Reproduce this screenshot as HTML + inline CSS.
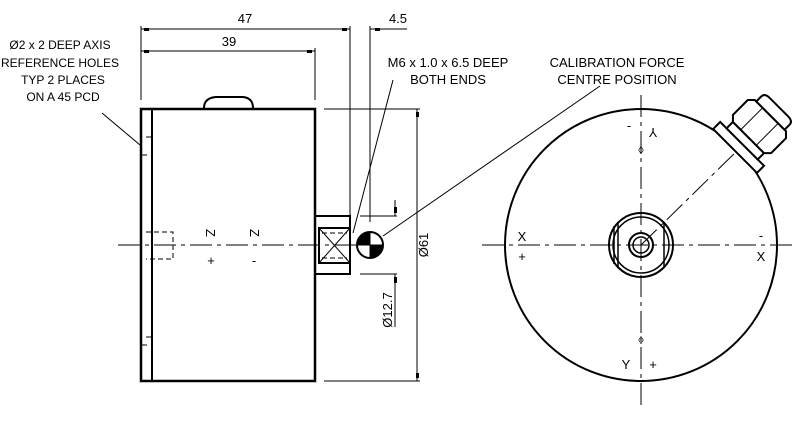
<!DOCTYPE html>
<html><head><style>html,body{margin:0;padding:0;background:#fff}</style></head><body>
<svg width="800" height="420" xmlns="http://www.w3.org/2000/svg" font-family="Liberation Sans, sans-serif" font-size="13" fill="none" stroke="#000">
<rect width="800" height="420" fill="#fff" stroke="none"/>
<rect x="141" y="109" width="174" height="272" stroke-width="2.5"/>
<line x1="152" y1="109" x2="152" y2="381" stroke-width="2"/>
<path d="M204 108 Q204 98 216 97 L243 97 Q253 98 253 108" stroke-width="2"/>
<rect x="315" y="216" width="35" height="58" stroke-width="2"/>
<rect x="319" y="228" width="31" height="35" stroke-width="2"/>
<path d="M319 228 L350 263 M350 228 L319 263" stroke-width="1"/>
<path d="M322 233 H347 M322 258 H347" stroke-width="1" stroke-dasharray="5,3"/>
<path d="M146 232 H173 V259 H146" stroke-width="1" stroke-dasharray="5,3"/>
<path d="M146 137 H152 M141 155 H147 M146 337 H152 M141 345 H147" stroke-width="1"/>
<line x1="118" y1="245" x2="360" y2="245" stroke-width="1" stroke-dasharray="22,5,4,5"/>
<circle cx="370" cy="245" r="13" stroke-width="2"/>
<path d="M370 245 V232 A13 13 0 0 0 357 245 Z M370 245 V258 A13 13 0 0 0 383 245 Z" fill="#000"/>
<g stroke-width="1">
<line x1="141" y1="29" x2="350" y2="29"/>
<line x1="141" y1="51" x2="315" y2="51"/>
<line x1="141" y1="26" x2="141" y2="100"/>
<line x1="315" y1="48" x2="315" y2="100"/>
<line x1="350" y1="26" x2="350" y2="215"/>
<line x1="370" y1="26" x2="370" y2="222"/>
<line x1="370" y1="29" x2="407" y2="29"/>
<line x1="324" y1="109" x2="420" y2="109"/>
<line x1="324" y1="381" x2="420" y2="381"/>
<line x1="417" y1="109" x2="417" y2="381"/>
<line x1="360" y1="216" x2="397" y2="216"/>
<line x1="360" y1="274" x2="397" y2="274"/>
<line x1="395" y1="200" x2="395" y2="216"/>
<line x1="395" y1="274" x2="395" y2="327"/>
<line x1="102" y1="113" x2="140" y2="145"/>
<line x1="393" y1="80" x2="353" y2="233"/>
<line x1="600" y1="86" x2="383" y2="236"/>
</g>
<g fill="#000" stroke="none">
<rect x="144" y="28" width="5" height="3"/><rect x="342" y="28" width="5" height="3"/>
<rect x="144" y="50" width="5" height="3"/><rect x="307" y="50" width="5" height="3"/>
<rect x="375" y="28" width="5" height="3"/>
<rect x="416" y="112" width="3" height="5"/><rect x="416" y="373" width="3" height="5"/>
<rect x="394" y="207" width="3" height="6"/><rect x="394" y="277" width="3" height="6"/>
</g>
<g fill="#000" stroke="none" text-anchor="middle">
<g font-size="12">
<text x="60" y="49">Ø2 x 2 DEEP AXIS</text>
<text x="60" y="67">REFERENCE HOLES</text>
<text x="63" y="84">TYP 2 PLACES</text>
<text x="63" y="101">ON A 45 PCD</text>
</g>
<text x="245" y="23">47</text>
<text x="229" y="46">39</text>
<text x="398" y="23">4.5</text>
<text x="448" y="67">M6 x 1.0 x 6.5 DEEP</text>
<text x="448" y="84">BOTH ENDS</text>
<text x="617" y="67">CALIBRATION FORCE</text>
<text x="617" y="84">CENTRE POSITION</text>
<text transform="translate(428,245) rotate(-90)">Ø61</text>
<text transform="translate(392,310) rotate(-90)">Ø12.7</text>
<text transform="translate(206,233) rotate(90)">Z</text>
<text transform="translate(250,233) rotate(90)">Z</text>
<text x="211" y="265">+</text><text x="254" y="265">-</text>
</g>
<circle cx="641" cy="245" r="136" stroke-width="2"/>
<g stroke-width="1" stroke-dasharray="22,5,4,5">
<line x1="482" y1="245" x2="792" y2="245"/>
<line x1="641" y1="95" x2="641" y2="405"/>
<line x1="641" y1="245" x2="742" y2="146"/>
</g>
<circle cx="641" cy="245" r="32" stroke-width="2"/>
<circle cx="641" cy="245" r="28" stroke-width="1.5"/>
<path d="M614 226 V264 M618 222 V268 M664 222 V268" stroke-width="1.5"/>
<circle cx="641" cy="245" r="12" stroke-width="2"/>
<circle cx="641" cy="245" r="8" stroke-width="1.5"/>
<g fill="#000" stroke="none" text-anchor="middle" font-size="13">
<text x="522" y="241">X</text><text x="522" y="261">+</text>
<text x="761" y="261">X</text><text x="761" y="240">-</text>
<text x="626" y="369">Y</text><text x="653" y="369">+</text>
<text transform="translate(653,128) rotate(180)">Y</text><text x="629" y="130">-</text>
<text x="641" y="154" font-size="11">◊</text>
<text x="641" y="344" font-size="11">◊</text>
</g>
<g transform="translate(641,245) rotate(-45)" stroke-width="2" fill="#fff">
<rect x="133" y="-31" width="10" height="62"/>
<rect x="143" y="-22" width="9" height="44"/>
<path d="M152 -22 L157 -27 H178 L183 -22 V22 L178 27 H157 L152 22 Z"/>
<path d="M152 -11 H183 M152 11 H183" stroke-width="1"/>
<path d="M183 -20 H190 Q195 -20 195 -13 V13 Q195 20 190 20 H183 Z"/>
</g>
</svg>
</body></html>
